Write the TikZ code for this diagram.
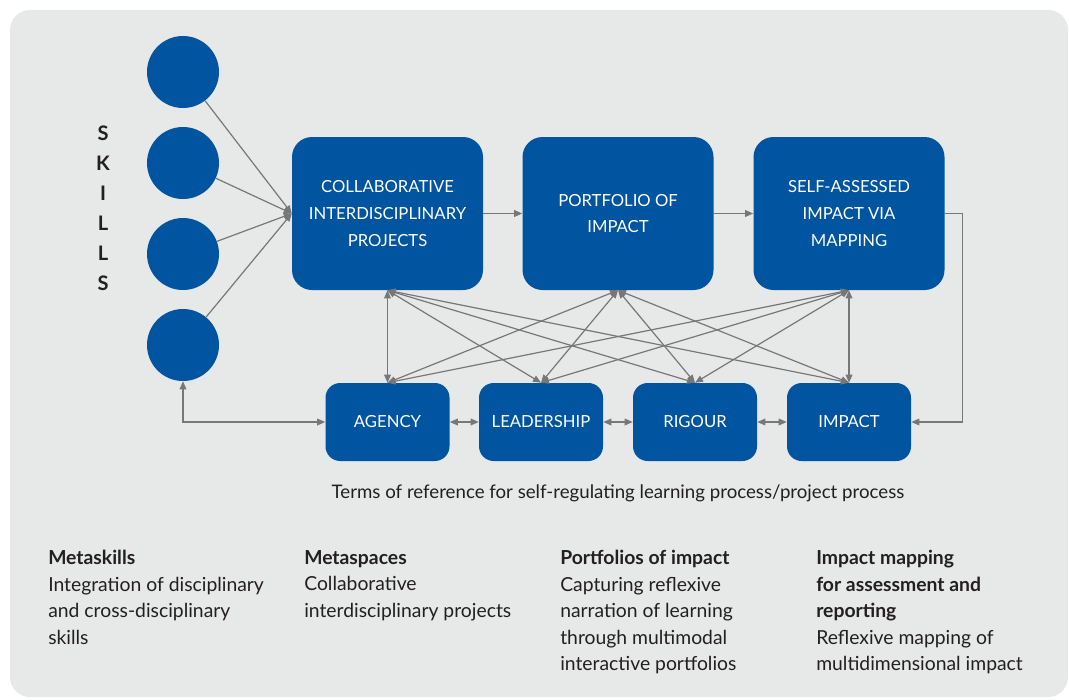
\documentclass[tikz,border=0pt]{standalone}
\usepackage{fontspec}
\setmainfont{Lato}
\usetikzlibrary{arrows.meta}
\definecolor{panel}{HTML}{E7E8E8}
\definecolor{boxblue}{HTML}{0054A0}
\definecolor{linegray}{HTML}{777777}
\definecolor{ink}{HTML}{231F20}
\tikzset{
  skill/.style={circle, fill=boxblue, minimum size=54pt, inner sep=0},
  bigbox/.style={rectangle, rounded corners=15pt, fill=boxblue, text=white,
    minimum width=143.25pt, minimum height=114.75pt, align=center,
    font=\fontsize{12.5}{19.9}\selectfont},
  termbox/.style={rectangle, rounded corners=11pt, fill=boxblue, text=white,
    minimum width=93pt, minimum height=58.5pt, align=center,
    font=\fontsize{12.5}{15}\selectfont},
  conn/.style={draw=linegray, line width=0.9pt, -{Triangle[length=6pt,width=5pt]}},
  dconn/.style={draw=linegray, line width=0.9pt, {Triangle[length=6pt,width=5pt]}-{Triangle[length=6pt,width=5pt]}},
  col/.style={anchor=north west, inner sep=0, align=left, text=ink,
    font=\fontsize{14.5}{19.9}\selectfont}
}
\begin{document}
\begin{tikzpicture}[x=0.75pt, y=-0.75pt]
  \useasboundingbox (0,0) rectangle (1069,699);
  \fill[panel] (10,10) [rounded corners=15pt] rectangle (1068,697);

  % skills column
  \foreach \i/\y in {1/72, 2/163, 3/254, 4/345}
    \node[skill] (s\i) at (183,\y) {};
  \node[text=ink, align=center, font=\fontsize{15}{22.5}\selectfont\bfseries]
    (skills) at (103,208) {S\\K\\I\\L\\L\\S};

  % process boxes
  \node[bigbox] (collab) at (387.5,213.5) {COLLABORATIVE\\INTERDISCIPLINARY\\PROJECTS};
  \node[bigbox] (portfolio) at (618,213.5) {PORTFOLIO OF\\IMPACT};
  \node[bigbox] (selfmap) at (849,213.5) {SELF-ASSESSED\\IMPACT VIA\\MAPPING};

  % terms of reference
  \node[termbox] (agency) at (387.5,422) {AGENCY};
  \node[termbox] (leadership) at (541,422) {LEADERSHIP};
  \node[termbox] (rigour) at (695,422) {RIGOUR};
  \node[termbox] (impact) at (849,422) {IMPACT};

  \node[text=ink, font=\fontsize{14}{16}\selectfont] (terms) at (618,493)
    {Terms of reference for self-regulating learning process/project process};

  % connectors
  \foreach \i in {1,...,4}
    \draw[conn] (s\i) -- (collab.west);
  \draw[conn] (collab) -- (portfolio);
  \draw[conn] (portfolio) -- (selfmap);
  \draw[conn] (selfmap.east) -- ++(18,0) |- (impact.east);
  \draw[dconn] (agency.west) -| (s4.south);
  \draw[dconn] (agency) -- (leadership);
  \draw[dconn] (leadership) -- (rigour);
  \draw[dconn] (rigour) -- (impact);
  \foreach \t in {collab,portfolio,selfmap}
    \foreach \b in {agency,leadership,rigour,impact}
      \draw[dconn] (\t.south) -- (\b.north);

  % descriptions
  \node[col] (metaskills) at (48,550) {\textbf{Metaskills}\\Integration of disciplinary\\and cross-disciplinary\\skills};
  \node[col] (metaspaces) at (304,550) {\textbf{Metaspaces}\\Collaborative\\interdisciplinary projects};
  \node[col] (portfolios) at (560,550) {\textbf{Portfolios of impact}\\Capturing reflexive\\narration of learning\\through multimodal\\interactive portfolios};
  \node[col] (mapping) at (816,550) {\textbf{Impact mapping}\\\textbf{for assessment and}\\\textbf{reporting}\\Reflexive mapping of\\multidimensional impact};
\end{tikzpicture}
\end{document}
